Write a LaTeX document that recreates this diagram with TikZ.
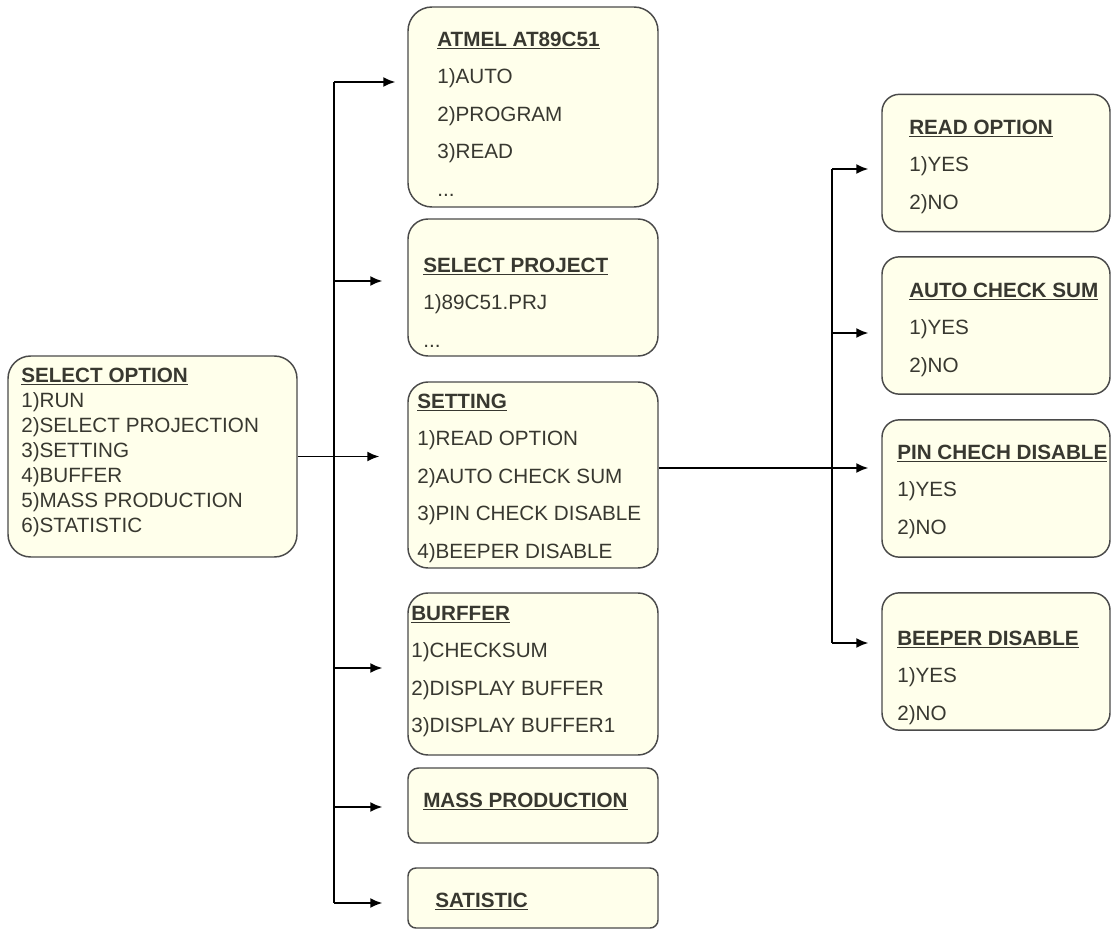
\documentclass[tikz,border=0pt]{standalone}
\usepackage{fontspec}
\setmainfont{Liberation Sans}
\usepackage{tikz}
\usetikzlibrary{shapes,arrows.meta}
\definecolor{menufill}{HTML}{FFFFEB}
\definecolor{menuline}{HTML}{4A4A4A}
\definecolor{menutext}{HTML}{383830}
\newcommand{\menuhead}[1]{\textbf{\underline{#1}}}

\begin{document}
\begin{tikzpicture}[
  x=0.75pt, y=-0.75pt,
  box/.style={draw=menuline, line width=1.1pt, fill=menufill, rounded corners=15pt,
              minimum width=187.5pt, inner sep=0pt},
  rbox/.style={box, minimum width=171pt, minimum height=103pt, rounded corners=13pt},
  txt/.style={anchor=north west, inner sep=0pt, align=left, text=menutext,
              font=\fontsize{15.5}{28.1}\selectfont},
  arr/.style={-{Latex[length=9pt,width=7.5pt]}, line width=1.2pt},
  trunk/.style={line width=1.2pt}
]
\useasboundingbox (0,0) rectangle (1113,930);

\node[box, minimum width=216.75pt, minimum height=150.75pt, rounded corners=17pt] (opt) at (152.5,456.5) {};
\node[txt, font=\fontsize{15.5}{18.75}\selectfont] (opttxt) at (21,367.6)
  {\menuhead{SELECT OPTION}\\1)RUN\\2)SELECT PROJECTION\\3)SETTING\\4)BUFFER\\5)MASS PRODUCTION\\6)STATISTIC};

\node[box, minimum height=150pt, rounded corners=18pt] (atmel) at (533,107) {};
\node[txt] (atmeltxt) at (437,31.6) {\menuhead{ATMEL AT89C51}\\1)AUTO\\2)PROGRAM\\3)READ\\...};

\node[box, minimum height=102.75pt] (proj) at (533,287.5) {};
\node[txt] (projtxt) at (423,257.6) {\menuhead{SELECT PROJECT}\\1)89C51.PRJ\\...};

\node[box, minimum height=139.5pt] (setting) at (533,475) {};
\node[txt] (settingtxt) at (417,393.6)
  {\menuhead{SETTING}\\1)READ OPTION\\2)AUTO CHECK SUM\\3)PIN CHECK DISABLE\\4)BEEPER DISABLE};

\node[box, minimum height=121.5pt] (buffer) at (533,674) {};
\node[txt] (buffertxt) at (411,605.6) {\menuhead{BURFFER}\\1)CHECKSUM\\2)DISPLAY BUFFER\\3)DISPLAY BUFFER1};

\node[box, minimum height=56.25pt, rounded corners=8pt] (mass) at (533,805.5) {};
\node[txt] (masstxt) at (423,792.6) {\menuhead{MASS PRODUCTION}};

\node[box, minimum height=45pt, rounded corners=6pt] (stat) at (533,898) {};
\node[txt] (stattxt) at (435,892.6) {\menuhead{SATISTIC}};

\node[rbox] (readopt) at (996,163) {};
\node[txt] (readopttxt) at (909,119.6) {\menuhead{READ OPTION}\\1)YES\\2)NO};

\node[rbox] (autocs) at (996,325.5) {};
\node[txt] (autocstxt) at (909,282.6) {\menuhead{AUTO CHECK SUM}\\1)YES\\2)NO};

\node[rbox] (pindis) at (996,488.5) {};
\node[txt] (pindistxt) at (897,444.6) {\menuhead{PIN CHECH DISABLE}\\1)YES\\2)NO};

\node[rbox] (beepdis) at (996,661.5) {};
\node[txt] (beepdistxt) at (897,630.6) {\menuhead{BEEPER DISABLE}\\1)YES\\2)NO};

\coordinate (ltop) at (334,82);
\coordinate (lproj) at (334,281);
\coordinate (lbuf) at (334,668);
\coordinate (lmass) at (334,807);
\coordinate (lbot) at (334,903);
\draw[trunk] (ltop) -- (lbot);
\draw[arr] (ltop) -- ([xshift=-9pt]atmel.west |- ltop);
\draw[arr] (lproj) -- ([xshift=-18.75pt]proj.west |- lproj);
\draw[arr] (opt.east) -- ([xshift=-21pt]setting.west |- opt.east);
\draw[arr] (lbuf) -- ([xshift=-18.75pt]buffer.west |- lbuf);
\draw[arr] (lmass) -- ([xshift=-18.75pt]mass.west |- lmass);
\draw[arr] (lbot) -- ([xshift=-18.75pt]stat.west |- lbot);

\coordinate (rtop) at (832,169);
\coordinate (rauto) at (832,333);
\coordinate (rbot) at (832,643);
\coordinate (sout) at ([yshift=5.25pt]setting.east);
\draw[trunk] (rtop) -- (rbot);
\draw[arr] (rtop) -- ([xshift=-9.75pt]readopt.west |- rtop);
\draw[arr] (rauto) -- ([xshift=-9.75pt]autocs.west |- rauto);
\draw[arr] (sout) -- ([xshift=-9.75pt]pindis.west |- sout);
\draw[arr] (rbot) -- ([xshift=-9.75pt]beepdis.west |- rbot);

\end{tikzpicture}
\end{document}
